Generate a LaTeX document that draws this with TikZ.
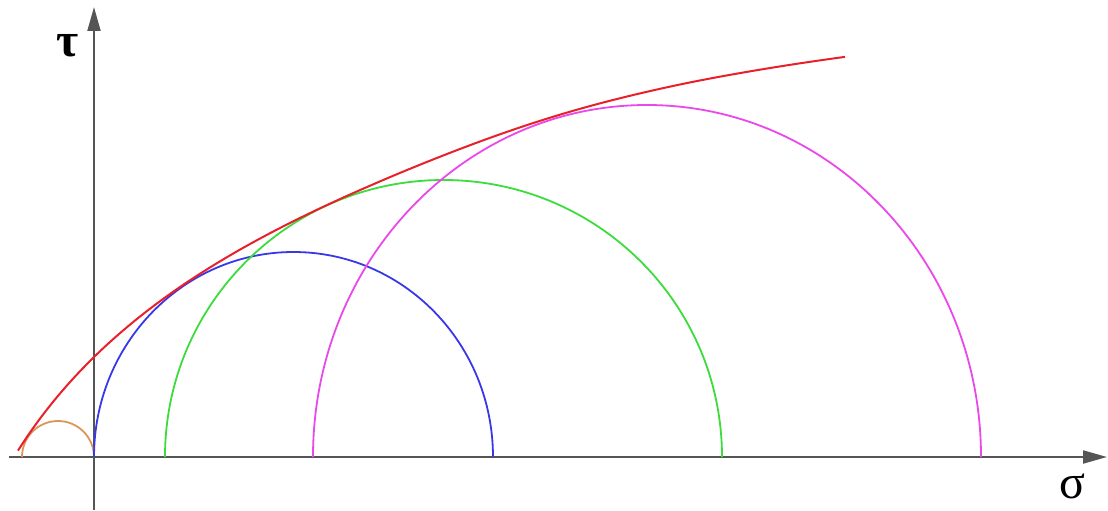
\documentclass[tikz,border=0pt]{standalone}
\usetikzlibrary{arrows.meta}
\usepackage{fontspec}
\newfontfamily\greekserif{Liberation Serif}
\definecolor{axisgray}{HTML}{555555}
\definecolor{envred}{HTML}{E8202A}
\definecolor{cblue}{HTML}{3838E8}
\definecolor{cgreen}{HTML}{3CDC3C}
\definecolor{cmag}{HTML}{EA48EA}
\definecolor{corange}{HTML}{D8985A}
\tikzset{
  axisline/.style={draw=axisgray, line width=1pt, -{Triangle[length=12pt,width=6.5pt]}},
  mohr/.style={line width=0.9pt},
  axlabel/.style={font=\greekserif\fontsize{24}{26}\selectfont, inner sep=0pt},
  declare function={env(\s)=195.7*ln(1+\s/120)+7*exp(-((\s-560)/170)^2)-1.68*(max(0,\s-650)/100)^2;}
}
\begin{document}
\begin{tikzpicture}[x=0.5pt,y=0.5pt]
\useasboundingbox (-94,-53) rectangle (1014,457);
% axes
\coordinate (hstart) at (-85,0);
\coordinate (hend) at (1013,0);
\coordinate (vstart) at (0,-53);
\coordinate (vend) at (0,450);
\draw[axisline] (hstart) -- (hend);
\draw[axisline] (vstart) -- (vend);
\node[axlabel] (tau) at (-26,411) {\bfseries τ};
\node[axlabel] (sigma) at (978,-29) {σ};
% Mohr circles
\draw[mohr, corange] (0,0) arc[start angle=0, end angle=180, x radius=36, y radius=36];
\draw[mohr, cblue] (399,0) arc[start angle=0, end angle=180, x radius=199.5, y radius=205];
\draw[mohr, cgreen] (628,0) arc[start angle=0, end angle=180, x radius=278.5, y radius=277];
\draw[mohr, cmag] (887,0) arc[start angle=0, end angle=180, x radius=334, y radius=352];
% envelope
\draw[mohr, envred, line width=1pt] plot[domain=-76:751, samples=160, smooth] (\x, {env(\x+80)});
\end{tikzpicture}
\end{document}
